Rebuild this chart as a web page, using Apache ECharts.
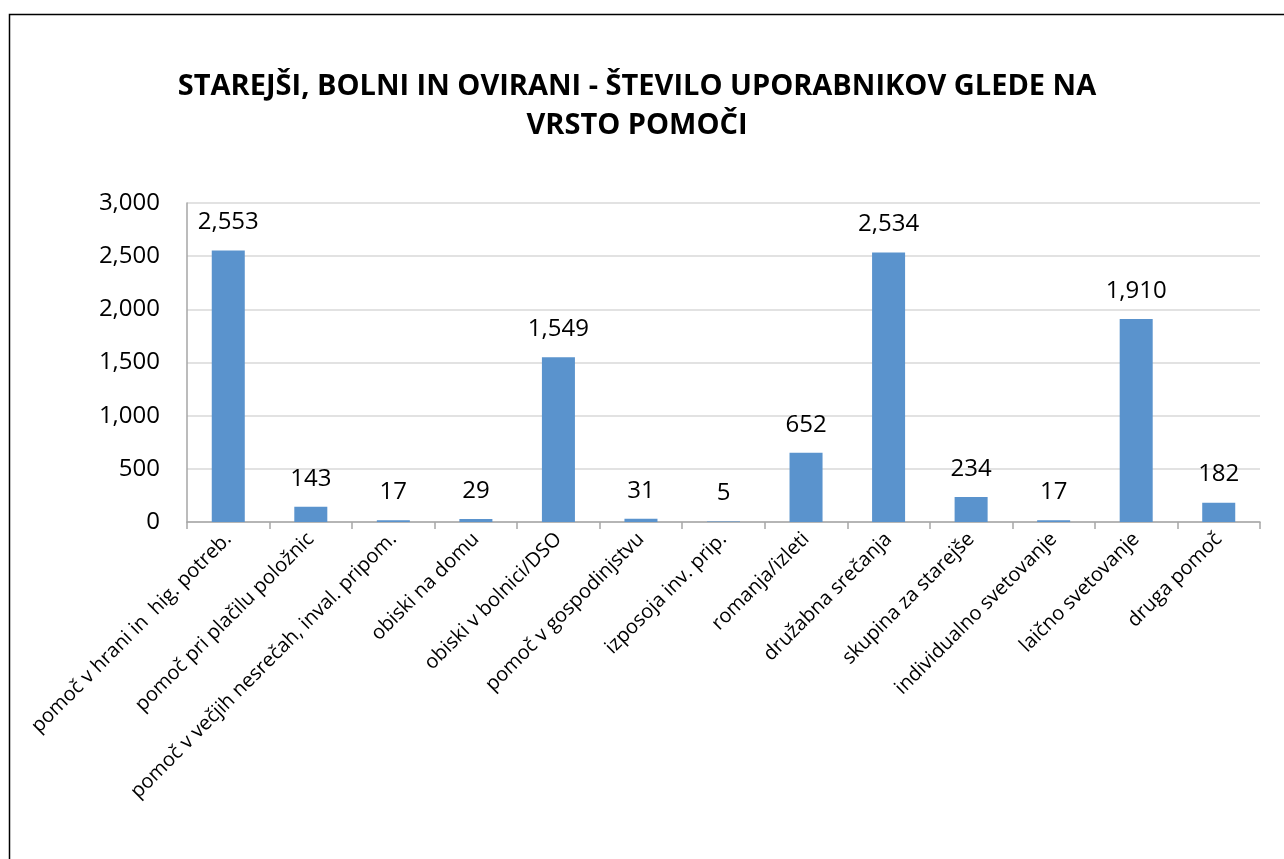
<!DOCTYPE html>
<html>
<head>
<meta charset="utf-8">
<script src="https://cdn.jsdelivr.net/npm/echarts@6/dist/echarts.min.js"></script>
<style>
  html, body { margin: 0; padding: 0; background: #fff; }
  #main { width: 1284px; height: 859px; }
</style>
</head>
<body>
<div id="main"></div>
<script>
// kategorije pomoči
let categories = [
  'pomoč v hrani in  hig. potreb.',
  'pomoč pri plačilu položnic',
  'pomoč v večjih nesrečah, inval. pripom.',
  'obiski na domu',
  'obiski v bolnici/DSO',
  'pomoč v gospodinjstvu',
  'izposoja inv. prip.',
  'romanja/izleti',
  'družabna srečanja',
  'skupina za starejše',
  'individualno svetovanje',
  'laično svetovanje',
  'druga pomoč'
];
// število uporabnikov
let users = [2553, 143, 17, 29, 1549, 31, 5, 652, 2534, 234, 17, 1910, 182];
let yTicks = [0, 500, 1000, 1500, 2000, 2500, 3000];

let fmt = function (v) { return Number(v).toLocaleString('en-US'); };

let myChart = echarts.init(document.getElementById('main'));
let option = {
  animation: false,
  backgroundColor: '#fff',
  title: {
    text: 'STAREJŠI, BOLNI IN OVIRANI - ŠTEVILO UPORABNIKOV GLEDE NA\nVRSTO POMOČI',
    left: 632,
    top: 62,
    textAlign: 'center',
    textStyle: {
      fontFamily: 'Open Sans',
      fontWeight: 'bold',
      fontSize: 29,
      lineHeight: 39,
      color: '#000'
    }
  },
  graphic: [{
    type: 'rect',
    shape: { x: 9.5, y: 14.5, width: 1300, height: 900 },
    style: { fill: 'none', stroke: '#000', lineWidth: 1.5 },
    silent: true
  }],
  grid: { left: 187, right: 24, top: 203, bottom: 337 },
  xAxis: {
    type: 'category',
    data: categories,
    axisLine: { lineStyle: { color: '#a6a6a6', width: 1.5 } },
    axisTick: { show: true, alignWithLabel: false, length: 7, lineStyle: { color: '#a6a6a6', width: 1.5 } },
    axisLabel: {
      interval: 0,
      rotate: 45,
      margin: 14,
      fontFamily: 'Open Sans',
      fontSize: 20,
      color: '#000'
    }
  },
  yAxis: {
    type: 'value',
    min: yTicks[0],
    max: yTicks[yTicks.length - 1],
    interval: 500,
    axisLine: { show: true, lineStyle: { color: '#a6a6a6', width: 1.5 } },
    axisTick: { show: false },
    splitLine: { lineStyle: { color: '#d9d9d9', width: 1.5 } },
    axisLabel: {
      margin: 27,
      fontFamily: 'Open Sans',
      fontSize: 24,
      color: '#000',
      formatter: fmt
    }
  },
  series: [{
    type: 'bar',
    data: users,
    barWidth: '40%',
    itemStyle: { color: '#5a93cd' },
    label: {
      show: true,
      position: 'top',
      distance: 16,
      fontFamily: 'Open Sans',
      fontSize: 24,
      color: '#000',
      formatter: function (p) { return fmt(p.value); }
    }
  }]
};
myChart.setOption(option, true);
</script>
</body>
</html>
